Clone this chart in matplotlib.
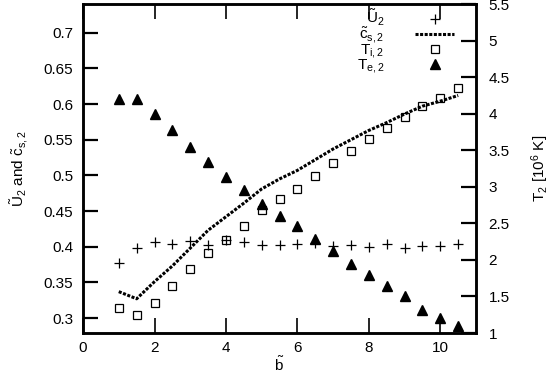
import matplotlib.pyplot as plt
import numpy as np

plt.rcParams['font.family'] = ['Liberation Sans', 'DejaVu Sans']
plt.rcParams['mathtext.fontset'] = 'custom'
plt.rcParams['mathtext.rm'] = 'Liberation Sans'
plt.rcParams['mathtext.it'] = 'Liberation Sans'

# --- data ---
b = [1, 1.5, 2, 2.5, 3, 3.5, 4, 4.5, 5, 5.5, 6, 6.5, 7, 7.5, 8, 8.5, 9, 9.5, 10, 10.5]
U2 = [0.377, 0.398, 0.406, 0.404, 0.408, 0.402, 0.409, 0.407, 0.402, 0.402,
      0.404, 0.405, 0.401, 0.403, 0.400, 0.404, 0.398, 0.401, 0.401, 0.404]
cs2 = [0.337, 0.327, 0.351, 0.373, 0.398, 0.423, 0.442, 0.461, 0.481, 0.495,
       0.507, 0.522, 0.537, 0.550, 0.563, 0.574, 0.586, 0.597, 0.604, 0.612]
Ti2 = [1.34, 1.24, 1.41, 1.64, 1.87, 2.09, 2.27, 2.46, 2.68, 2.84,
       2.97, 3.15, 3.32, 3.49, 3.65, 3.80, 3.96, 4.11, 4.22, 4.35]
Te2 = [4.20, 4.20, 4.00, 3.78, 3.55, 3.34, 3.13, 2.96, 2.76, 2.60,
       2.46, 2.28, 2.12, 1.95, 1.80, 1.64, 1.51, 1.32, 1.21, 1.09]

fig = plt.figure(figsize=(5.5, 3.78), dpi=100)
ax = fig.add_axes([0.151, 0.119, 0.7145, 0.870])
ax2 = ax.twinx()

l1, = ax.plot(b, U2, ls='none', marker='+', ms=7, mew=0.9, color='black')
l2, = ax.plot(b, cs2, ls=(0, (1, 0.5)), lw=2.2, color='black')
l3, = ax2.plot(b, Ti2, ls='none', marker='s', ms=6, mfc='none', mec='black', mew=0.9)
l4, = ax2.plot(b, Te2, ls='none', marker='^', ms=7, color='black')

ax.set_xlim(0, 11)
ax.set_ylim(0.279, 0.74)
ax2.set_ylim(1, 5.5)
ax.set_xticks(np.arange(0, 11, 2))
ax.set_yticks(np.arange(0.3, 0.701, 0.05))
ax.set_yticklabels(['0.3', '0.35', '0.4', '0.45', '0.5', '0.55', '0.6', '0.65', '0.7'])
ax2.set_yticks(np.arange(1, 5.51, 0.5))
ax2.set_yticklabels(['1', '1.5', '2', '2.5', '3', '3.5', '4', '4.5', '5', '5.5'])

ax.tick_params(axis='x', direction='in', length=11, width=1.2, top=True, labelsize=11, pad=6)
ax.tick_params(axis='y', direction='in', length=11, width=1.6, labelsize=11, pad=7)
ax2.tick_params(axis='y', direction='in', length=11, width=1.6, labelsize=11, pad=9)
for a in (ax, ax2):
    for s in a.spines.values():
        s.set_linewidth(1.8)

ax.set_xlabel(r'$\tilde{\mathrm{b}}$', fontsize=11, labelpad=0)
ax.set_ylabel(r'$\tilde{\mathrm{U}}_2$ and $\tilde{\mathrm{c}}_{\mathrm{s,2}}$', fontsize=11, labelpad=10)
ax2.set_ylabel(r'T$_2$ [10$^6$ K]', fontsize=11, labelpad=14)

ax.legend([l1, l2, l3, l4],
          [r'$\tilde{\mathrm{U}}_2$', r'$\tilde{\mathrm{c}}_{\mathrm{s,2}}$',
           r'T$_{\mathrm{i,2}}$', r'T$_{\mathrm{e,2}}$'],
          loc='upper right', bbox_to_anchor=(0.98, 1.03), frameon=False,
          markerfirst=False, fontsize=11, handlelength=2.6, labelspacing=-0.2,
          handletextpad=2.0)

fig.savefig('out.png', dpi=100)
